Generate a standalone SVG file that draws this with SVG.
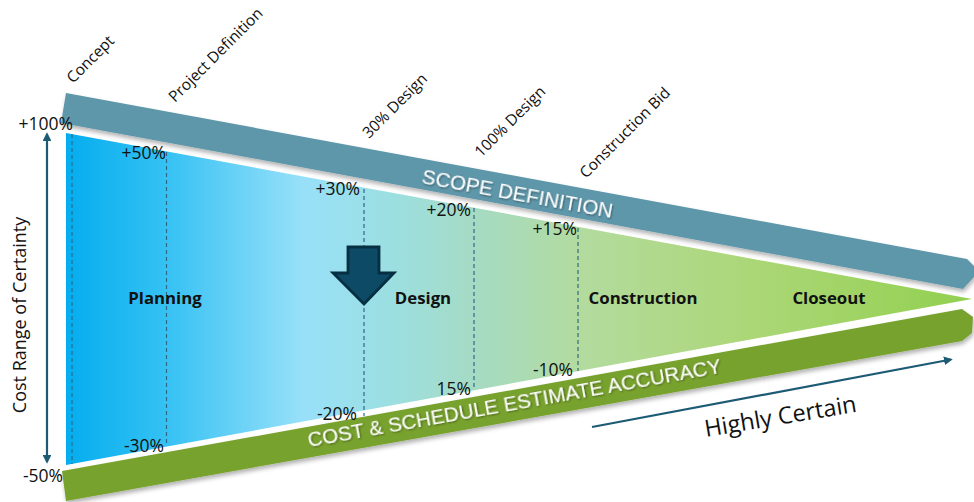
<svg xmlns="http://www.w3.org/2000/svg" width="974" height="502" viewBox="0 0 974 502">
<defs>
<style>
.pct{font-family:"Open Sans","Liberation Sans",sans-serif;font-size:17.5px;fill:#111;text-anchor:end}
.diag{font-family:"Open Sans","Liberation Sans",sans-serif;font-size:15.5px;fill:#111}
.phase{font-family:"Open Sans","Liberation Sans",sans-serif;font-size:16.8px;font-weight:bold;fill:#111;text-anchor:middle}
.band{font-family:"Liberation Sans",Arial,sans-serif;font-size:20.5px;fill:#fff}
.dash{stroke:#2f6a84;stroke-width:1.2;stroke-dasharray:4 3;fill:none}
.conn{stroke:#1d5a74;stroke-width:2.2;fill:none}
</style>
<linearGradient id="fan" gradientUnits="userSpaceOnUse" x1="66" y1="0" x2="972" y2="0">
<stop offset="0" stop-color="#04adef"/>
<stop offset="0.11" stop-color="#35c1f3"/>
<stop offset="0.26" stop-color="#97e0f9"/>
<stop offset="0.36" stop-color="#9cdfe1"/>
<stop offset="0.45" stop-color="#a5dbc4"/>
<stop offset="0.57" stop-color="#b3db9e"/>
<stop offset="0.75" stop-color="#acd778"/>
<stop offset="1" stop-color="#92d050"/>
</linearGradient>
<filter id="shadow" x="-5%" y="-20%" width="110%" height="150%">
<feDropShadow dx="1" dy="3" stdDeviation="2" flood-color="#000" flood-opacity="0.3"/>
</filter>
<filter id="tshadow" x="-5%" y="-30%" width="110%" height="160%">
<feDropShadow dx="1" dy="1" stdDeviation="0.8" flood-color="#000" flood-opacity="0.45"/>
</filter>
<marker id="head" viewBox="0 0 10 10" refX="8" refY="5" markerWidth="4" markerHeight="4" orient="auto-start-reverse">
<path d="M0,0 L10,5 L0,10 z" fill="#1d5a74"/>
</marker>
</defs>

<g id="fan-shape">
<polygon points="66,133 972,299 66,465" fill="url(#fan)"/>
</g>

<g id="scope-band" filter="url(#shadow)">
<polygon points="66,93 967,259 974,266 974,277 963,289 61,123" fill="#5e97aa"/>
</g>
<g id="accuracy-band" filter="url(#shadow)">
<polygon points="62,471 962,309 973,317 972,333 962,341 66,501" fill="#78a22f"/>
</g>

<g id="milestones">
<line class="dash" x1="72" y1="134" x2="72" y2="464"/>
<line class="dash" x1="166.5" y1="152" x2="166.5" y2="444"/>
<line class="dash" x1="364" y1="189" x2="364" y2="416"/>
<line class="dash" x1="474" y1="208" x2="474" y2="390"/>
<line class="dash" x1="578" y1="228" x2="578" y2="371"/>
</g>

<g id="down-arrow">
<polygon points="348,247 379,247 379,273 394,273 364,304 333,273 348,273" fill="#0d4a66" stroke="#072f42" stroke-width="2.8" stroke-linejoin="miter"/>
</g>

<g id="connectors">
<line class="conn" x1="47" y1="134" x2="47" y2="462" marker-start="url(#head)" marker-end="url(#head)"/>
<line class="conn" x1="592" y1="427" x2="951" y2="359.5" marker-end="url(#head)"/>
</g>

<g id="band-labels">
<text class="band" filter="url(#tshadow)" transform="translate(421,183) rotate(10.4)">SCOPE DEFINITION</text>
<text class="band" filter="url(#tshadow)" transform="translate(309,447) rotate(-10.2)">COST &amp; SCHEDULE ESTIMATE ACCURACY</text>
</g>

<g id="milestone-labels">
<text class="diag" transform="translate(73,84) rotate(-45)">Concept</text>
<text class="diag" transform="translate(175,103) rotate(-45)">Project Definition</text>
<text class="diag" transform="translate(369,139) rotate(-45)">30% Design</text>
<text class="diag" transform="translate(481,158) rotate(-45)">100% Design</text>
<text class="diag" transform="translate(586,179) rotate(-45)">Construction Bid</text>
</g>

<g id="percent-labels">
<text class="pct" x="73" y="130">+100%</text>
<text class="pct" x="63" y="482">-50%</text>
<text class="pct" x="166" y="159">+50%</text>
<text class="pct" x="164" y="452">-30%</text>
<text class="pct" x="360" y="195">+30%</text>
<text class="pct" x="357" y="420">-20%</text>
<text class="pct" x="471" y="216">+20%</text>
<text class="pct" x="471" y="395">15%</text>
<text class="pct" x="577" y="235">+15%</text>
<text class="pct" x="573" y="376">-10%</text>
</g>

<g id="phase-labels">
<text class="phase" x="165" y="304">Planning</text>
<text class="phase" x="423" y="304">Design</text>
<text class="phase" x="643" y="304">Construction</text>
<text class="phase" x="829" y="304">Closeout</text>
</g>

<g id="axis-labels">
<text font-family="'Open Sans','Liberation Sans',sans-serif" font-size="18" fill="#111" text-anchor="middle" transform="translate(26,315) rotate(-90)">Cost Range of Certainty</text>
<text font-family="'Open Sans','Liberation Sans',sans-serif" font-size="23.5" fill="#111" transform="translate(706,437) rotate(-9.5)">Highly Certain</text>
</g>
</svg>
